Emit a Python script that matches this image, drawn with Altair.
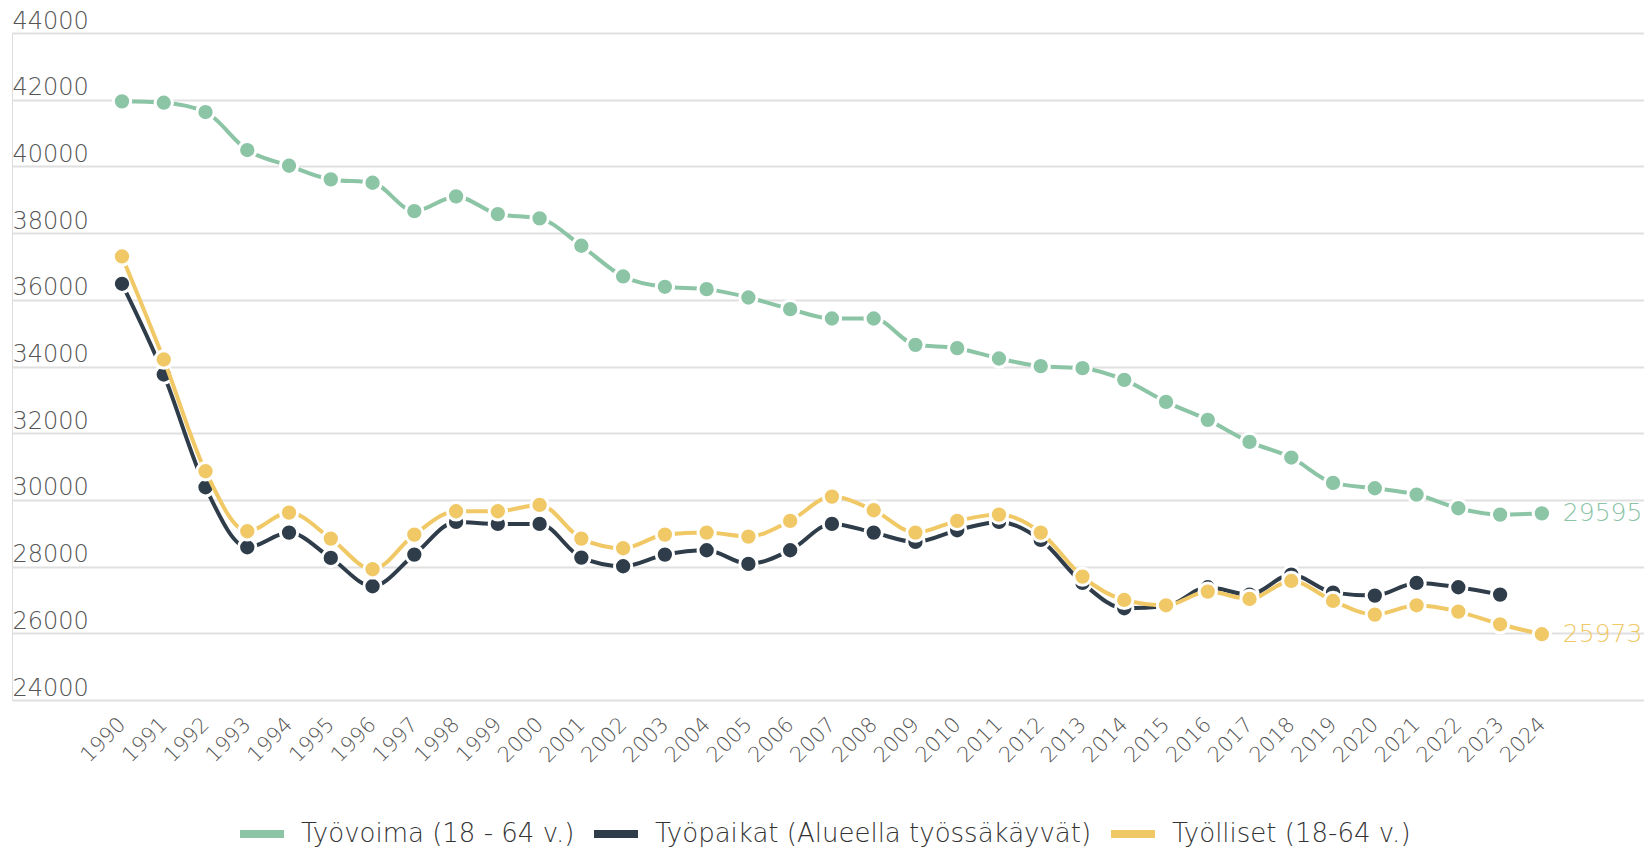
import altair as alt
import pandas as pd

years = list(range(1990, 2025))
tyovoima = [41950, 41910, 41630, 40490, 40020, 39610, 39510, 38660, 39100, 38570,
            38440, 37620, 36700, 36390, 36320, 36070, 35720, 35440, 35440, 34650,
            34550, 34240, 34010, 33950, 33600, 32940, 32400, 31740, 31270, 30510,
            30350, 30160, 29750, 29560, 29595]
tyopaikat = [36480, 33760, 30380, 28580, 29020, 28260, 27410, 28360, 29340, 29280,
             29280, 28270, 28010, 28360, 28490, 28080, 28490, 29280, 29020, 28740,
             29090, 29340, 28800, 27510, 26750, 26810, 27380, 27160, 27760, 27220,
             27130, 27510, 27380, 27160]
tyolliset = [37300, 34210, 30860, 29060, 29620, 28840, 27920, 28960, 29660, 29660,
             29850, 28840, 28550, 28960, 29020, 28900, 29370, 30100, 29690, 29020,
             29370, 29560, 29020, 27700, 27000, 26840, 27250, 27030, 27570, 26970,
             26560, 26840, 26650, 26270, 25973]

series_names = ["Työvoima (18 - 64 v.)", "Työpaikat (Alueella työssäkäyvät)", "Työlliset (18-64 v.)"]
series_colors = ["#8cc4a6", "#2f3d4a", "#f0c866"]
y_ticks = list(range(24000, 44001, 2000))

rows = []
for name, vals in zip(series_names, [tyovoima, tyopaikat, tyolliset]):
    for yr, v in zip(years, vals):
        rows.append({"year": yr, "value": v, "series": name})
df = pd.DataFrame(rows)

FONT = "DejaVu Sans"

x_enc = alt.X("year:Q",
              scale=alt.Scale(domain=[1987.366, 2026.446], nice=False, zero=False),
              axis=alt.Axis(values=years, format="d", title=None, labelAngle=-45,
                            labelAlign="right", labelBaseline="middle", labelPadding=21,
                            labelFontSize=21, labelColor="#555555", labelFont=FONT,
                            labelFontWeight=300,
                            domain=False, ticks=False, grid=False, labelOverlap=False))
y_enc = alt.Y("value:Q",
              scale=alt.Scale(domain=[24000, 44000], nice=False, zero=False),
              axis=alt.Axis(values=y_ticks, format="d", title=None, labelAlign="left",
                            labelBaseline="alphabetic", labelPadding=0, tickSize=0,
                            labelOffset=-5, labelFontSize=24, labelColor="#555555",
                            labelFont=FONT, labelFontWeight=300, domain=False, ticks=False,
                            gridColor="#e0e0e0", gridWidth=2))

color_scale = alt.Scale(domain=series_names, range=series_colors)
legend = alt.Legend(title=None, orient="none", legendX=224, legendY=775,
                    direction="horizontal", symbolType="stroke", symbolStrokeWidth=8,
                    symbolSize=1936, labelFontSize=26, labelFont=FONT,
                    labelFontWeight=300,
                    labelColor="#333333", columnPadding=3, labelOffset=13,
                    padding=0, labelLimit=700)

layers = []
for i, name in enumerate(series_names):
    base = alt.Chart(df).transform_filter(alt.datum.series == name)
    line = base.mark_line(strokeWidth=4, interpolate="monotone").encode(
        x=x_enc, y=y_enc,
        color=alt.Color("series:N", scale=color_scale, legend=legend if i == 0 else None))
    pts = base.mark_circle(size=300, stroke="white", strokeWidth=3, opacity=1).encode(
        x=x_enc, y=y_enc,
        color=alt.Color("series:N", scale=color_scale, legend=None))
    layers += [line, pts]

labels = alt.Chart(df).transform_filter(alt.datum.year == 2024).mark_text(
    align="left", baseline="middle", dx=21, fontSize=25, font=FONT, fontWeight=300).encode(
    x=x_enc, y=y_enc, text=alt.Text("value:Q", format="d"),
    color=alt.Color("series:N", scale=color_scale, legend=None))
layers.append(labels)

chart = alt.layer(*layers).properties(
    width=1632, height=667,
    autosize=alt.AutoSizeParams(type="none"),
    padding={"left": 4, "top": 25, "right": 0, "bottom": 148},
).configure_view(stroke=None).configure(font=FONT)

chart.save("out.html", embed_options={"renderer": "svg", "actions": False})
